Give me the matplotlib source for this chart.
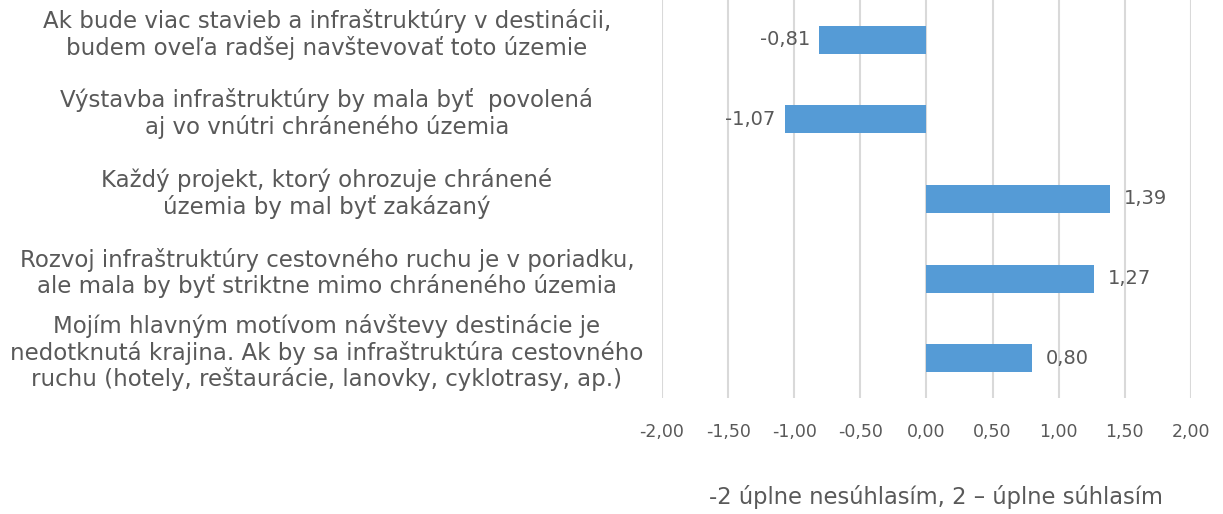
import matplotlib.pyplot as plt
import matplotlib.transforms as mtransforms
import numpy as np

plt.rcParams['font.family'] = ['DejaVu Sans']

statements = [
    "Ak bude viac stavieb a infraštruktúry v destinácii,\nbudem oveľa radšej navštevovať toto územie",
    "Výstavba infraštruktúry by mala byť  povolená\naj vo vnútri chráneného územia",
    "Každý projekt, ktorý ohrozuje chránené\núzemia by mal byť zakázaný",
    "Rozvoj infraštruktúry cestovného ruchu je v poriadku,\nale mala by byť striktne mimo chráneného územia",
    "Mojím hlavným motívom návštevy destinácie je\nnedotknutá krajina. Ak by sa infraštruktúra cestovného\nruchu (hotely, reštaurácie, lanovky, cyklotrasy, ap.)",
]
scores = [-0.81, -1.07, 1.39, 1.27, 0.80]
ticks = [-2.0, -1.5, -1.0, -0.5, 0.0, 0.5, 1.0, 1.5, 2.0]
xlabel = "-2 úplne nesúhlasím, 2 – úplne súhlasím"

text_col = "#595959"
bar_col = "#559BD6"

fig = plt.figure(figsize=(12.23, 5.14), dpi=100)
ax = fig.add_axes([662 / 1223, 1 - 398 / 514, (1191 - 662) / 1223, 398 / 514])

y = np.arange(len(scores))
ax.barh(y, scores, height=0.35, color=bar_col, zorder=3)

for yi, v in zip(y, scores):
    lab = f"{v:.2f}".replace(".", ",")
    if v < 0:
        ax.text(v - 0.07, yi, lab, ha="right", va="center", fontsize=14, color=text_col)
    else:
        ax.text(v + 0.1, yi, lab, ha="left", va="center", fontsize=14, color=text_col)

trans = mtransforms.blended_transform_factory(fig.transFigure, ax.transData)
for yi, s in zip(y, statements):
    ax.text(327 / 1223, yi - 0.07, s, transform=trans, ha="center", va="center",
            fontsize=16.5, color=text_col, linespacing=1.15)

ax.set_xlim(-2, 2)
ax.set_ylim(len(scores) - 0.5, -0.5)
ax.set_xticks(ticks)
ax.set_xticklabels([f"{t:.2f}".replace(".", ",") for t in ticks], fontsize=12.5, color=text_col)
ax.set_yticks([])
ax.tick_params(axis="x", length=0, pad=18)
ax.grid(axis="x", color="#D9D9D9", linewidth=1.5, zorder=0)
for sp in ax.spines.values():
    sp.set_visible(False)

fig.text(936 / 1223, 1 - 497 / 514, xlabel, ha="center", va="center", fontsize=16.3, color=text_col)

fig.savefig("out.png", dpi=100)
